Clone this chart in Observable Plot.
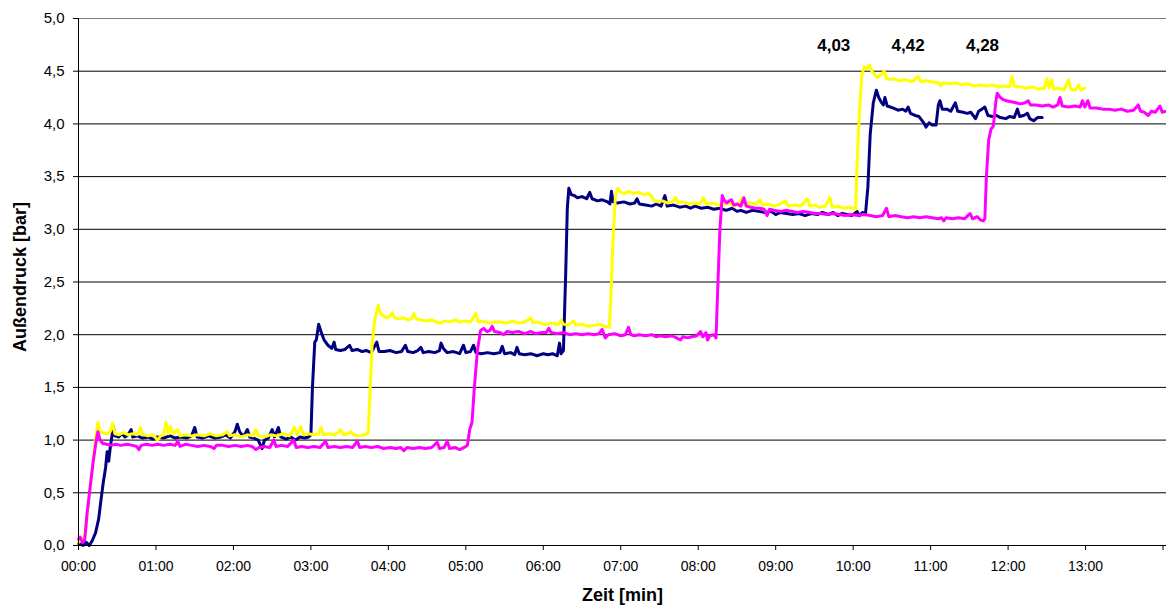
<!DOCTYPE html>
<html>
<head>
<meta charset="utf-8">
<script src="https://cdn.jsdelivr.net/npm/d3@7"></script>
<script src="https://cdn.jsdelivr.net/npm/@observablehq/plot@0.6"></script>
<style>
  html, body { margin: 0; padding: 0; background: #fff; }
  #chart svg { display: block; }
</style>
</head>
<body>
<div id="chart"></div>
<script>
// ---- data (time in minutes, pressure in bar) ----
const seriesNames = ["Messung 1", "Messung 2", "Messung 3"];
const seriesColors = ["#000080", "#FFFF00", "#FF00FF"];

const navyPoints = [[0,0.02],[0.06,0.0],[0.1,0.03],[0.14,0.0],[0.18,0.05],[0.22,0.12],[0.26,0.25],[0.29,0.43],[0.32,0.6],[0.35,0.74],[0.37,0.89],[0.39,0.8],[0.41,0.93],[0.43,1.03],[0.45,1.13],[0.47,1.04],[0.52,1.03],[0.56,1.06],[0.6,1.03],[0.64,1.05],[0.68,1.1],[0.7,1.03],[0.76,1.04],[0.82,1.02],[0.9,1.03],[0.96,1.01],[1.02,1.03],[1.1,1.02],[1.18,1.04],[1.25,1.02],[1.32,1.03],[1.4,1.02],[1.46,1.04],[1.5,1.12],[1.53,1.03],[1.6,1.02],[1.68,1.04],[1.76,1.02],[1.84,1.03],[1.9,1.05],[1.96,1.02],[2.02,1.08],[2.05,1.15],[2.08,1.08],[2.12,1.04],[2.15,1.06],[2.18,1.1],[2.21,1.03],[2.26,1.02],[2.32,1.0],[2.35,0.95],[2.37,0.92],[2.4,1.0],[2.45,1.02],[2.5,1.1],[2.53,1.03],[2.58,1.12],[2.61,1.03],[2.68,1.01],[2.74,1.03],[2.8,1.0],[2.86,1.03],[2.92,1.02],[2.97,1.03],[3.0,1.05],[3.02,1.5],[3.05,1.93],[3.07,1.95],[3.1,2.1],[3.13,2.03],[3.17,1.95],[3.22,1.9],[3.27,1.87],[3.3,1.93],[3.32,1.86],[3.38,1.85],[3.44,1.86],[3.5,1.9],[3.53,1.85],[3.6,1.86],[3.66,1.84],[3.72,1.85],[3.78,1.83],[3.85,1.93],[3.88,1.84],[3.95,1.84],[4.02,1.85],[4.1,1.83],[4.17,1.84],[4.22,1.9],[4.25,1.84],[4.32,1.83],[4.38,1.85],[4.42,1.88],[4.45,1.83],[4.52,1.84],[4.6,1.83],[4.66,1.85],[4.68,1.92],[4.71,1.87],[4.76,1.83],[4.84,1.84],[4.92,1.82],[4.97,1.9],[5.0,1.83],[5.06,1.84],[5.1,1.9],[5.13,1.83],[5.2,1.82],[5.28,1.83],[5.36,1.82],[5.44,1.83],[5.47,1.89],[5.5,1.82],[5.58,1.83],[5.63,1.81],[5.66,1.88],[5.69,1.82],[5.76,1.81],[5.84,1.82],[5.92,1.8],[6.0,1.82],[6.06,1.81],[6.12,1.82],[6.18,1.8],[6.21,1.92],[6.23,1.82],[6.26,1.85],[6.29,2.6],[6.31,3.2],[6.33,3.39],[6.36,3.33],[6.4,3.32],[6.44,3.3],[6.5,3.31],[6.56,3.29],[6.6,3.35],[6.63,3.29],[6.7,3.27],[6.76,3.28],[6.83,3.26],[6.86,3.24],[6.88,3.36],[6.9,3.26],[6.96,3.25],[7.04,3.26],[7.12,3.24],[7.18,3.25],[7.21,3.29],[7.24,3.24],[7.32,3.23],[7.4,3.22],[7.46,3.24],[7.52,3.22],[7.57,3.32],[7.6,3.22],[7.68,3.23],[7.76,3.21],[7.84,3.22],[7.9,3.2],[7.96,3.22],[8.04,3.2],[8.12,3.21],[8.2,3.19],[8.28,3.2],[8.36,3.18],[8.44,3.2],[8.5,3.17],[8.55,3.18],[8.62,3.16],[8.7,3.18],[8.78,3.17],[8.86,3.16],[8.94,3.17],[9.0,3.14],[9.06,3.16],[9.14,3.15],[9.22,3.14],[9.3,3.15],[9.38,3.13],[9.46,3.15],[9.54,3.14],[9.6,3.16],[9.68,3.14],[9.74,3.16],[9.8,3.13],[9.86,3.15],[9.92,3.14],[9.98,3.13],[10.02,3.15],[10.05,3.17],[10.08,3.13],[10.12,3.16],[10.16,3.15],[10.19,3.4],[10.22,3.9],[10.26,4.2],[10.3,4.32],[10.33,4.25],[10.36,4.21],[10.39,4.18],[10.41,4.25],[10.44,4.17],[10.48,4.16],[10.52,4.15],[10.58,4.13],[10.64,4.14],[10.68,4.12],[10.71,4.16],[10.74,4.1],[10.8,4.08],[10.85,4.07],[10.88,4.04],[10.92,4.0],[10.94,3.97],[10.98,4.01],[11.02,3.99],[11.07,3.99],[11.1,4.18],[11.12,4.22],[11.15,4.14],[11.21,4.14],[11.26,4.12],[11.32,4.2],[11.35,4.12],[11.42,4.11],[11.47,4.1],[11.52,4.11],[11.58,4.05],[11.62,4.12],[11.66,4.14],[11.7,4.16],[11.74,4.08],[11.8,4.07],[11.85,4.08],[11.9,4.06],[11.97,4.05],[12.02,4.07],[12.08,4.06],[12.12,4.14],[12.15,4.07],[12.2,4.08],[12.25,4.1],[12.28,4.05],[12.33,4.03],[12.38,4.06],[12.44,4.06]];

const yellowPoints = [[0,0.03],[0.04,0.06],[0.08,0.08],[0.12,0.35],[0.15,0.55],[0.19,0.8],[0.22,1.02],[0.25,1.17],[0.28,1.08],[0.32,1.07],[0.36,1.06],[0.41,1.08],[0.44,1.16],[0.47,1.06],[0.52,1.05],[0.58,1.07],[0.64,1.05],[0.7,1.06],[0.76,1.05],[0.8,1.12],[0.83,1.05],[0.9,1.04],[0.96,1.05],[1.02,1.0],[1.06,1.04],[1.1,1.05],[1.13,1.17],[1.16,1.06],[1.19,1.13],[1.22,1.06],[1.28,1.1],[1.31,1.04],[1.38,1.05],[1.46,1.04],[1.54,1.05],[1.62,1.04],[1.7,1.06],[1.78,1.04],[1.86,1.05],[1.92,1.08],[1.95,1.04],[2.02,1.05],[2.1,1.03],[2.18,1.05],[2.25,1.04],[2.29,1.1],[2.32,1.04],[2.4,1.03],[2.48,1.05],[2.56,1.04],[2.64,1.06],[2.72,1.04],[2.79,1.12],[2.82,1.05],[2.87,1.13],[2.9,1.05],[2.96,1.06],[3.04,1.05],[3.1,1.06],[3.13,1.12],[3.16,1.05],[3.24,1.06],[3.3,1.05],[3.35,1.07],[3.38,1.1],[3.42,1.05],[3.48,1.06],[3.51,1.08],[3.55,1.05],[3.62,1.04],[3.7,1.05],[3.74,1.07],[3.76,1.4],[3.79,1.9],[3.82,2.12],[3.85,2.22],[3.87,2.28],[3.9,2.2],[3.93,2.18],[3.97,2.16],[4.01,2.17],[4.05,2.21],[4.08,2.16],[4.14,2.15],[4.2,2.16],[4.26,2.14],[4.3,2.15],[4.33,2.2],[4.36,2.15],[4.42,2.14],[4.5,2.13],[4.56,2.14],[4.62,2.12],[4.67,2.11],[4.72,2.13],[4.8,2.12],[4.86,2.14],[4.92,2.12],[5.0,2.13],[5.06,2.12],[5.13,2.2],[5.16,2.12],[5.22,2.13],[5.3,2.11],[5.38,2.12],[5.45,2.12],[5.52,2.11],[5.6,2.13],[5.68,2.11],[5.76,2.12],[5.84,2.16],[5.87,2.11],[5.94,2.12],[6.0,2.1],[6.05,2.1],[6.12,2.11],[6.2,2.1],[6.23,2.14],[6.26,2.1],[6.32,2.09],[6.39,2.13],[6.42,2.09],[6.5,2.1],[6.58,2.08],[6.66,2.09],[6.74,2.1],[6.78,2.08],[6.85,2.07],[6.87,2.3],[6.9,2.9],[6.93,3.3],[6.96,3.39],[7.0,3.35],[7.05,3.34],[7.1,3.36],[7.16,3.34],[7.22,3.35],[7.3,3.33],[7.36,3.34],[7.39,3.32],[7.43,3.27],[7.48,3.26],[7.54,3.27],[7.6,3.25],[7.66,3.26],[7.71,3.3],[7.74,3.25],[7.8,3.26],[7.88,3.24],[7.96,3.25],[8.02,3.24],[8.07,3.3],[8.1,3.24],[8.18,3.25],[8.26,3.23],[8.34,3.24],[8.42,3.25],[8.46,3.22],[8.52,3.24],[8.57,3.3],[8.6,3.23],[8.66,3.25],[8.74,3.24],[8.8,3.28],[8.83,3.23],[8.9,3.24],[8.98,3.22],[9.06,3.24],[9.13,3.27],[9.16,3.22],[9.24,3.23],[9.32,3.22],[9.41,3.29],[9.44,3.22],[9.5,3.23],[9.56,3.21],[9.64,3.22],[9.7,3.3],[9.73,3.21],[9.8,3.22],[9.88,3.2],[9.94,3.21],[10.0,3.2],[10.03,3.19],[10.05,3.6],[10.08,4.1],[10.11,4.45],[10.14,4.54],[10.18,4.52],[10.21,4.56],[10.24,4.5],[10.28,4.47],[10.31,4.44],[10.35,4.46],[10.4,4.5],[10.43,4.43],[10.48,4.42],[10.52,4.43],[10.6,4.41],[10.68,4.42],[10.76,4.4],[10.84,4.45],[10.87,4.4],[10.94,4.41],[11.02,4.4],[11.1,4.39],[11.13,4.36],[11.16,4.39],[11.24,4.38],[11.32,4.39],[11.4,4.37],[11.48,4.38],[11.56,4.36],[11.64,4.37],[11.72,4.36],[11.8,4.37],[11.88,4.35],[11.96,4.36],[12.02,4.35],[12.05,4.45],[12.08,4.36],[12.16,4.35],[12.24,4.34],[12.32,4.35],[12.4,4.33],[12.47,4.34],[12.5,4.43],[12.53,4.34],[12.56,4.42],[12.59,4.33],[12.66,4.34],[12.72,4.32],[12.78,4.42],[12.81,4.33],[12.87,4.32],[12.91,4.37],[12.94,4.32],[12.99,4.34]];

const magentaPoints = [[0,0.06],[0.02,0.08],[0.05,0.03],[0.08,0.05],[0.11,0.3],[0.15,0.55],[0.19,0.8],[0.23,1.0],[0.25,1.08],[0.28,1.0],[0.31,0.97],[0.36,0.96],[0.42,0.95],[0.48,0.96],[0.55,0.95],[0.62,0.96],[0.7,0.95],[0.75,0.94],[0.78,0.91],[0.81,0.95],[0.88,0.96],[0.95,0.95],[1.02,0.96],[1.1,0.95],[1.18,0.96],[1.25,0.95],[1.28,0.99],[1.31,0.94],[1.38,0.96],[1.46,0.95],[1.54,0.94],[1.62,0.95],[1.7,0.94],[1.75,0.92],[1.78,0.95],[1.86,0.95],[1.94,0.94],[2.02,0.95],[2.1,0.94],[2.18,0.95],[2.24,0.94],[2.29,0.91],[2.33,0.93],[2.4,0.94],[2.47,0.93],[2.52,1.0],[2.55,0.94],[2.62,0.95],[2.7,0.94],[2.78,1.0],[2.81,0.93],[2.88,0.94],[2.96,0.93],[3.04,0.94],[3.12,0.93],[3.19,0.99],[3.22,0.93],[3.3,0.94],[3.38,0.93],[3.46,0.94],[3.54,0.93],[3.6,0.99],[3.63,0.93],[3.7,0.94],[3.78,0.93],[3.86,0.94],[3.94,0.92],[4.02,0.93],[4.1,0.92],[4.16,0.93],[4.2,0.9],[4.24,0.93],[4.32,0.92],[4.4,0.93],[4.48,0.92],[4.56,0.93],[4.63,0.98],[4.66,0.92],[4.72,0.93],[4.76,0.99],[4.79,0.92],[4.86,0.93],[4.92,0.91],[4.98,0.93],[5.02,0.95],[5.05,1.1],[5.08,1.17],[5.11,1.5],[5.15,1.85],[5.19,2.04],[5.23,2.06],[5.27,2.03],[5.31,2.04],[5.34,2.08],[5.37,2.03],[5.44,2.02],[5.49,2.0],[5.53,2.03],[5.6,2.02],[5.68,2.03],[5.76,2.01],[5.84,2.03],[5.9,2.01],[5.98,2.02],[6.04,2.02],[6.07,2.06],[6.1,2.02],[6.18,2.01],[6.26,2.02],[6.34,2.0],[6.42,2.01],[6.5,2.0],[6.58,2.01],[6.66,2.0],[6.72,2.01],[6.76,2.05],[6.8,1.97],[6.84,2.0],[6.92,2.01],[7.0,1.99],[7.06,2.0],[7.1,2.07],[7.13,2.0],[7.17,1.99],[7.24,2.0],[7.32,1.99],[7.4,2.0],[7.46,1.98],[7.51,1.99],[7.58,1.98],[7.66,1.99],[7.72,1.97],[7.77,1.95],[7.8,1.98],[7.86,1.97],[7.92,1.98],[7.98,1.99],[8.03,2.03],[8.06,1.98],[8.1,2.02],[8.12,1.95],[8.15,1.99],[8.2,2.0],[8.23,1.97],[8.25,2.4],[8.28,3.0],[8.31,3.32],[8.34,3.27],[8.37,3.25],[8.4,3.27],[8.43,3.28],[8.46,3.23],[8.5,3.24],[8.55,3.22],[8.59,3.3],[8.62,3.22],[8.68,3.21],[8.74,3.2],[8.8,3.2],[8.85,3.19],[8.89,3.13],[8.92,3.19],[8.98,3.18],[9.06,3.17],[9.14,3.18],[9.21,3.17],[9.28,3.16],[9.36,3.17],[9.44,3.16],[9.5,3.15],[9.58,3.15],[9.66,3.14],[9.74,3.15],[9.82,3.14],[9.9,3.13],[9.98,3.14],[10.06,3.13],[10.14,3.14],[10.22,3.13],[10.3,3.12],[10.38,3.13],[10.43,3.2],[10.46,3.12],[10.54,3.13],[10.62,3.12],[10.7,3.11],[10.78,3.12],[10.86,3.11],[10.94,3.12],[11.02,3.11],[11.1,3.1],[11.14,3.11],[11.17,3.08],[11.2,3.11],[11.28,3.1],[11.36,3.11],[11.44,3.1],[11.48,3.13],[11.51,3.15],[11.54,3.1],[11.6,3.12],[11.64,3.09],[11.68,3.08],[11.7,3.1],[11.72,3.5],[11.75,3.85],[11.78,3.95],[11.81,3.98],[11.84,4.2],[11.86,4.29],[11.9,4.25],[11.94,4.23],[11.98,4.22],[12.04,4.21],[12.1,4.2],[12.16,4.19],[12.22,4.2],[12.26,4.22],[12.29,4.18],[12.36,4.18],[12.44,4.17],[12.52,4.18],[12.58,4.16],[12.64,4.18],[12.67,4.25],[12.7,4.17],[12.78,4.16],[12.86,4.17],[12.93,4.16],[12.96,4.22],[12.99,4.16],[13.03,4.22],[13.06,4.15],[13.14,4.15],[13.22,4.14],[13.3,4.14],[13.38,4.13],[13.46,4.14],[13.54,4.12],[13.62,4.13],[13.68,4.18],[13.71,4.12],[13.76,4.11],[13.81,4.08],[13.85,4.12],[13.9,4.11],[13.96,4.17],[13.99,4.11],[14.04,4.12]];

const annotationLabels = ["4,03", "4,42", "4,28"];
const annotationTime = [9.75, 10.71, 11.67];
const annotationValue = [4.74, 4.74, 4.74];

const xTickValues = [0,1,2,3,4,5,6,7,8,9,10,11,12,13,14];
const xTickLabels = ["00:00","01:00","02:00","03:00","04:00","05:00","06:00","07:00","08:00","09:00","10:00","11:00","12:00","13:00",""];
const yTickValues = [0,0.5,1,1.5,2,2.5,3,3.5,4,4.5,5];
const yTickLabels = ["0,0","0,5","1,0","1,5","2,0","2,5","3,0","3,5","4,0","4,5","5,0"];

const xTitle = "Zeit [min]";
const yTitle = "Außendruck [bar]";

// ---- build table ----
const allSeries = [navyPoints, yellowPoints, magentaPoints];
const rows = allSeries.flatMap((pts, i) => pts.map(([t, v]) => ({series: seriesNames[i], t, v})));
const annotations = annotationLabels.map((label, i) => ({label, t: annotationTime[i], v: annotationValue[i]}));

const font = "Arial, 'Liberation Sans', sans-serif";

const chart = Plot.plot({
  width: 1166,
  height: 607,
  marginLeft: 78,
  marginRight: 0,
  marginTop: 18,
  marginBottom: 62,
  style: {fontFamily: font, fontSize: "14px", color: "#000", background: "#fff"},
  x: {domain: [0, 14.045], label: null},
  y: {domain: [0, 5], label: null},
  color: {domain: seriesNames, range: seriesColors},
  marks: [
    Plot.ruleY(yTickValues.filter(d => d > 0 && d < 5), {stroke: "#000", strokeWidth: 1}),
    Plot.ruleY([5], {stroke: "#808080", strokeWidth: 1}),
    Plot.lineY(rows, {x: "t", y: "v", z: "series", stroke: "series", strokeWidth: 3, curve: "linear", strokeLinejoin: "round"}),
    Plot.ruleY([0], {stroke: "#000", strokeWidth: 1}),
    Plot.ruleX([0], {stroke: "#000", strokeWidth: 1}),
    Plot.axisY({ticks: yTickValues, tickFormat: (d) => yTickLabels[yTickValues.indexOf(d)], tickSize: 5, tickPadding: 9, label: null, fontSize: 15}),
    Plot.axisX({ticks: xTickValues, tickFormat: (d) => xTickLabels[xTickValues.indexOf(d)], tickSize: 5, tickPadding: 11, label: null, fontSize: 14}),
    Plot.text([yTitle], {frameAnchor: "left", rotate: -90, dx: -58, dy: -5, textAnchor: "middle", lineAnchor: "middle", fontWeight: "bold", fontSize: 18}),
    Plot.text([xTitle], {frameAnchor: "bottom", dy: 50, textAnchor: "middle", lineAnchor: "middle", fontWeight: "bold", fontSize: 18}),
    Plot.text(annotations, {x: "t", y: "v", text: "label", fontWeight: "bold", fontSize: 17})
  ]
});

document.getElementById("chart").appendChild(chart);
</script>
</body>
</html>
